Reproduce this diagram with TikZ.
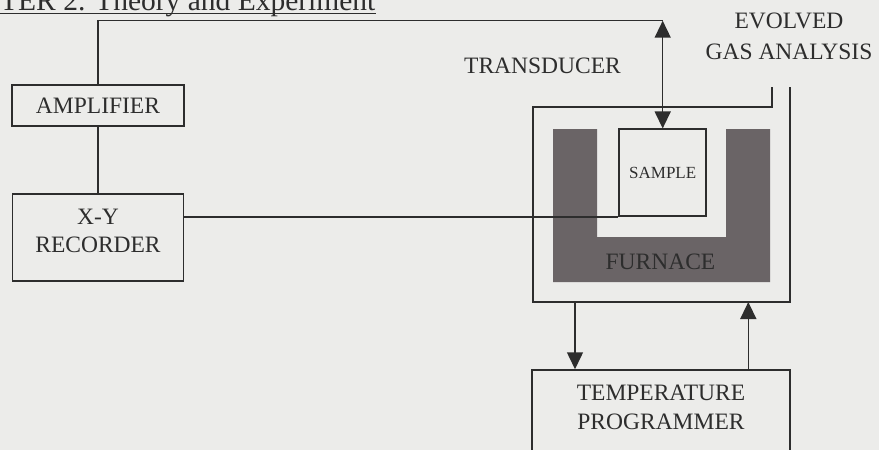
\documentclass[tikz,border=0pt]{standalone}
\usepackage{fontspec}
\setmainfont{Liberation Serif}
\usetikzlibrary{arrows.meta}
\definecolor{paper}{RGB}{236,236,234}
\definecolor{ink}{RGB}{45,45,45}
\definecolor{furnacegray}{RGB}{106,100,102}

\begin{document}
\begin{tikzpicture}[
  x=1pt, y=-1pt,
  >={Triangle[width=16pt,length=17pt]},
  block/.style={draw=ink, line width=1.5pt, inner sep=0pt, align=center},
  wire/.style={draw=ink, line width=1.5pt},
  every node/.style={text=ink, font=\fontsize{23.5}{28.5}\selectfont}
]
  \clip (0,0) rectangle (879,450);
  \fill[paper] (0,0) rectangle (879,450);

  \node[anchor=base west, inner sep=0pt, font=\fontsize{29.5}{34}\selectfont] (hdr) at (0,10) {TER 2. Theory and Experiment};
  \draw[ink, line width=1.3pt] ([yshift=-3.5pt]hdr.base west) -- ([yshift=-3.5pt]hdr.base east);

  \fill[furnacegray] (553,129) -- (597,129) -- (597,237) -- (726,237) -- (726,129)
    -- (770,129) -- (770,282) -- (553,282) -- cycle;
  \draw[wire] (772,87) |- (533,107) |- (790,302) -- (790,87);

  \node[block, minimum width=172pt, minimum height=41pt] (amp) at (98,105.5) {AMPLIFIER};
  \node[block, minimum width=171pt, minimum height=87pt, text depth=13pt] (rec) at (98,237.4) {X-Y\\RECORDER};
  \node[block, minimum width=87pt, minimum height=87pt, font=\fontsize{17}{20}\selectfont] (smp) at (662.7,172.7) {SAMPLE};
  \node[block, minimum width=258pt, minimum height=90pt, text depth=16pt] (tp) at (661,415) {TEMPERATURE\\PROGRAMMER};

  \node (trd) at (542.5,65.7) {TRANSDUCER};
  \node[align=center, font=\fontsize{23.5}{31}\selectfont] (ega) at (789,36.5) {EVOLVED\\GAS ANALYSIS};
  \node (fur) at (660.5,261.7) {FURNACE};

  \coordinate (top) at (662.7,20.7);
  \coordinate (outL) at (575,302);
  \coordinate (outR) at (748.3,302);

  \draw[wire] (amp.north) |- (top);
  \draw[wire, <->] (top) -- (smp.north);
  \draw[wire] (amp) -- (rec);
  \draw[wire] (rec.east |- smp.south west) -- (smp.south west);
  \draw[wire, ->] (outL) -- (outL |- tp.north);
  \draw[wire, ->] (outR |- tp.north) -- (outR);
\end{tikzpicture}
\end{document}
